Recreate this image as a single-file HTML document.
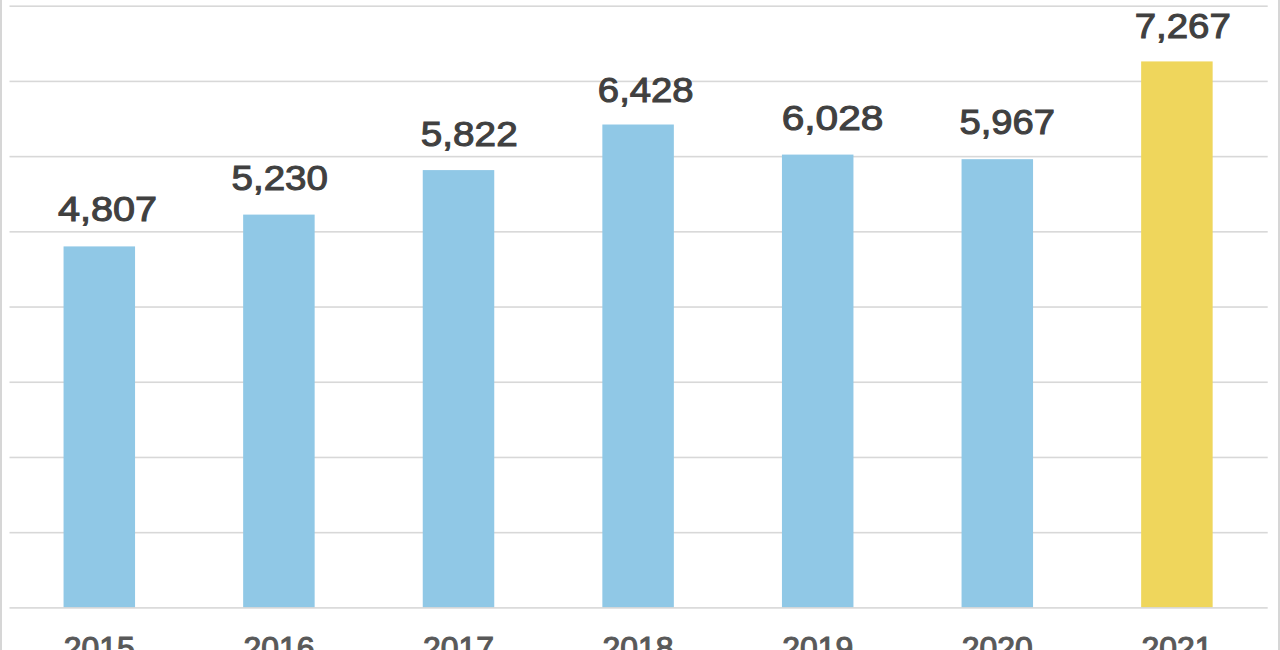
<!DOCTYPE html><html><head><meta charset="utf-8"><style>html,body{margin:0;padding:0;background:#fff;width:1280px;height:650px;overflow:hidden}svg{display:block}</style></head><body>
<svg width="1280" height="650" viewBox="0 0 1280 650">
<rect x="0" y="0" width="1280" height="650" fill="#fff"/>
<rect x="0" y="0" width="2" height="650" fill="#d6d6d6"/>
<rect x="1278" y="0" width="2" height="650" fill="#d6d6d6"/>
<rect x="9.5" y="5.40" width="1258.2" height="1.6" fill="#d8d8d8"/>
<rect x="9.5" y="80.61" width="1258.2" height="1.6" fill="#d8d8d8"/>
<rect x="9.5" y="155.82" width="1258.2" height="1.6" fill="#d8d8d8"/>
<rect x="9.5" y="231.03" width="1258.2" height="1.6" fill="#d8d8d8"/>
<rect x="9.5" y="306.24" width="1258.2" height="1.6" fill="#d8d8d8"/>
<rect x="9.5" y="381.45" width="1258.2" height="1.6" fill="#d8d8d8"/>
<rect x="9.5" y="456.66" width="1258.2" height="1.6" fill="#d8d8d8"/>
<rect x="9.5" y="531.87" width="1258.2" height="1.6" fill="#d8d8d8"/>
<rect x="63.55" y="246.41" width="71.5" height="361.49" fill="#90c8e6"/>
<rect x="243.15" y="214.60" width="71.5" height="393.30" fill="#90c8e6"/>
<rect x="422.75" y="170.09" width="71.5" height="437.81" fill="#90c8e6"/>
<rect x="602.35" y="124.51" width="71.5" height="483.39" fill="#90c8e6"/>
<rect x="781.95" y="154.59" width="71.5" height="453.31" fill="#90c8e6"/>
<rect x="961.55" y="159.18" width="71.5" height="448.72" fill="#90c8e6"/>
<rect x="1141.15" y="61.42" width="71.5" height="546.48" fill="#efd65c"/>
<rect x="9.5" y="607.10" width="1258.2" height="1.6" fill="#d8d8d8"/>
<text transform="translate(107.50 220.75) scale(1.1268 1)" text-anchor="middle" font-family="Liberation Sans, sans-serif" font-size="35.2" fill="#404040" stroke="#404040" stroke-width="1.05">4,807</text>
<text transform="translate(279.75 189.60) scale(1.0947 1)" text-anchor="middle" font-family="Liberation Sans, sans-serif" font-size="35.2" fill="#404040" stroke="#404040" stroke-width="1.05">5,230</text>
<text transform="translate(469.25 146.00) scale(1.0995 1)" text-anchor="middle" font-family="Liberation Sans, sans-serif" font-size="35.2" fill="#404040" stroke="#404040" stroke-width="1.05">5,822</text>
<text transform="translate(645.75 101.80) scale(1.0877 1)" text-anchor="middle" font-family="Liberation Sans, sans-serif" font-size="35.2" fill="#404040" stroke="#404040" stroke-width="1.05">6,428</text>
<text transform="translate(832.50 130.40) scale(1.1552 1)" text-anchor="middle" font-family="Liberation Sans, sans-serif" font-size="35.2" fill="#404040" stroke="#404040" stroke-width="1.05">6,028</text>
<text transform="translate(1007.25 134.10) scale(1.0854 1)" text-anchor="middle" font-family="Liberation Sans, sans-serif" font-size="35.2" fill="#404040" stroke="#404040" stroke-width="1.05">5,967</text>
<text transform="translate(1182.75 38.15) scale(1.0925 1)" text-anchor="middle" font-family="Liberation Sans, sans-serif" font-size="35.2" fill="#404040" stroke="#404040" stroke-width="1.05">7,267</text>
<text transform="translate(99.30 658.7) scale(1.03 1)" text-anchor="middle" font-family="Liberation Sans, sans-serif" font-size="31" fill="#595959" stroke="#595959" stroke-width="1.1">2015</text>
<text transform="translate(278.90 658.7) scale(1.03 1)" text-anchor="middle" font-family="Liberation Sans, sans-serif" font-size="31" fill="#595959" stroke="#595959" stroke-width="1.1">2016</text>
<text transform="translate(458.50 658.7) scale(1.03 1)" text-anchor="middle" font-family="Liberation Sans, sans-serif" font-size="31" fill="#595959" stroke="#595959" stroke-width="1.1">2017</text>
<text transform="translate(638.10 658.7) scale(1.03 1)" text-anchor="middle" font-family="Liberation Sans, sans-serif" font-size="31" fill="#595959" stroke="#595959" stroke-width="1.1">2018</text>
<text transform="translate(817.70 658.7) scale(1.03 1)" text-anchor="middle" font-family="Liberation Sans, sans-serif" font-size="31" fill="#595959" stroke="#595959" stroke-width="1.1">2019</text>
<text transform="translate(997.30 658.7) scale(1.03 1)" text-anchor="middle" font-family="Liberation Sans, sans-serif" font-size="31" fill="#595959" stroke="#595959" stroke-width="1.1">2020</text>
<text transform="translate(1176.90 658.7) scale(1.03 1)" text-anchor="middle" font-family="Liberation Sans, sans-serif" font-size="31" fill="#595959" stroke="#595959" stroke-width="1.1">2021</text>
</svg></body></html>
